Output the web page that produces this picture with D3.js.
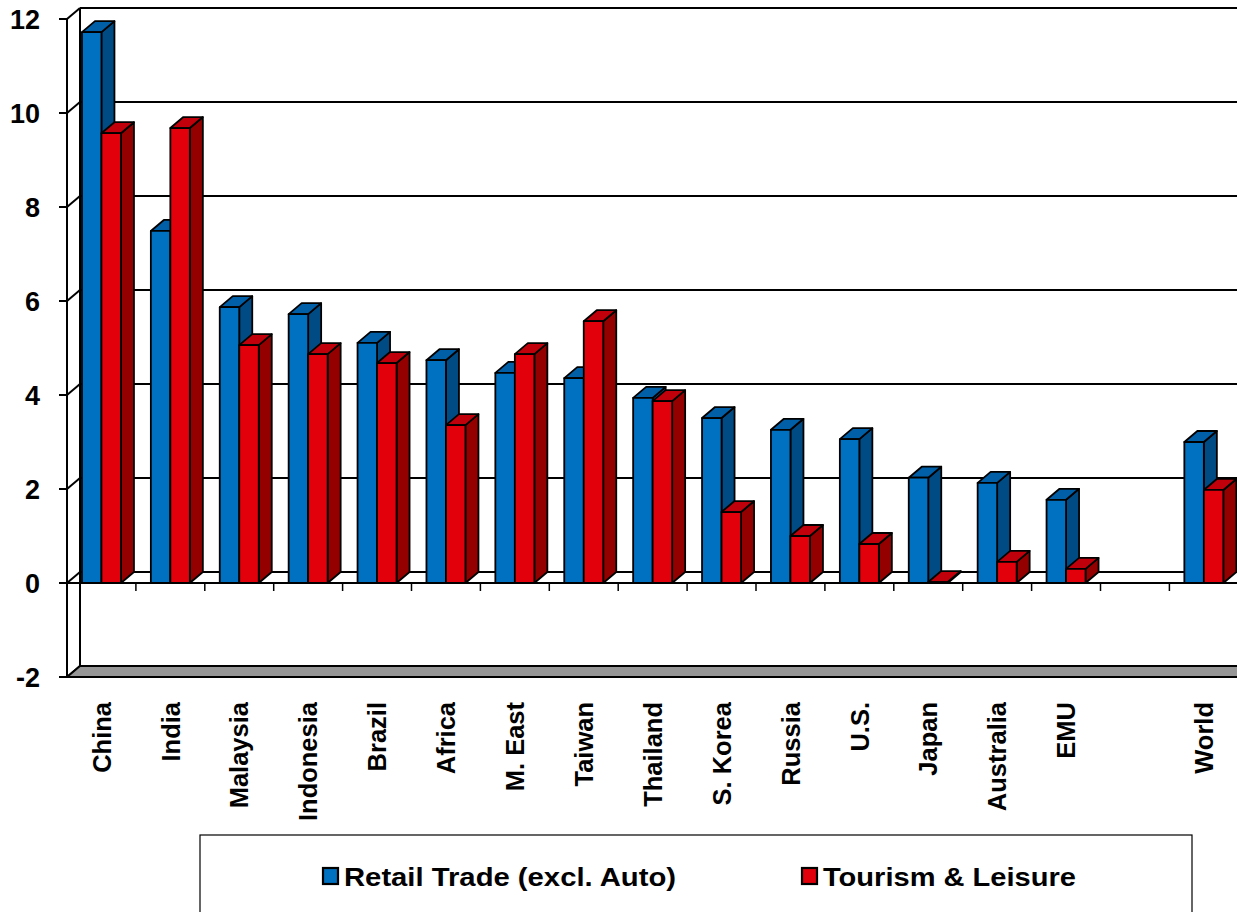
<!DOCTYPE html>
<html>
<head>
<meta charset="utf-8">
<script src="https://cdn.jsdelivr.net/npm/d3@7"></script>
<style>
  html, body { margin: 0; padding: 0; background: #fff; }
  svg { display: block; }
  text { font-family: Arial, "Liberation Sans", sans-serif; font-weight: bold; fill: #000; }
</style>
</head>
<body>
<svg id="chart" width="1237" height="912"></svg>
<script>
// Growth by region, two sectors
const categories = ["China", "India", "Malaysia", "Indonesia", "Brazil", "Africa", "M. East", "Taiwan",
  "Thailand", "S. Korea", "Russia", "U.S.", "Japan", "Australia", "EMU", "", "World"];
const retail  = [11.72, 7.49, 5.87, 5.72, 5.11, 4.74, 4.47, 4.36, 3.94, 3.51, 3.26, 3.06, 2.24, 2.13, 1.77, null, 3.00];
const tourism = [9.57, 9.68, 5.06, 4.87, 4.68, 3.36, 4.87, 5.57, 3.87, 1.51, 1.00, 0.83, 0.02, 0.45, 0.30, null, 1.98];
const seriesNames = ["Retail Trade (excl. Auto)", "Tourism & Leisure"];
const yTicks = [-2, 0, 2, 4, 6, 8, 10, 12];

const svg = d3.select("#chart");

// layout of the 3-D box
const plotLeft = 67, plotBottom = 677, plotTop = 19;
const slot = 68.9;
const depth = { dx: 13, dy: -11 };

const y = d3.scaleLinear().domain([-2, 12]).range([plotBottom, plotTop]);
const x0 = d3.scaleBand().domain(d3.range(categories.length))
  .range([plotLeft, plotLeft + slot * categories.length]).padding(0);
const x1 = d3.scaleBand().domain([0, 1]).range([0, x0.bandwidth()])
  .paddingInner(0).paddingOuter(0.767);

const farRight = plotLeft + slot * categories.length + 40;

const colors = [
  { front: "#0070C0", top: "#005FA6", side: "#004B84" },
  { front: "#E2000B", top: "#C0000A", side: "#940000" }
];

// left side wall and back-wall gridlines
const wall = svg.append("g").attr("stroke", "#000").attr("stroke-width", 2).attr("fill", "none");
yTicks.forEach(v => {
  const yf = y(v);
  if (v > -2) {
    wall.append("line").attr("x1", plotLeft + depth.dx).attr("x2", farRight)
      .attr("y1", yf + depth.dy).attr("y2", yf + depth.dy);
  }
  wall.append("line").attr("x1", plotLeft).attr("y1", yf)
    .attr("x2", plotLeft + depth.dx).attr("y2", yf + depth.dy);
  wall.append("line").attr("x1", plotLeft - 8).attr("x2", plotLeft).attr("y1", yf).attr("y2", yf);
});
wall.append("line").attr("x1", plotLeft + depth.dx).attr("x2", plotLeft + depth.dx)
  .attr("y1", y(12) + depth.dy).attr("y2", y(-2) + depth.dy);
wall.append("line").attr("x1", plotLeft).attr("x2", plotLeft).attr("y1", y(12)).attr("y2", y(-2));

// floor slab at the axis minimum
svg.append("path")
  .attr("d", `M${plotLeft},${y(-2)} L${plotLeft + depth.dx},${y(-2) + depth.dy} L${farRight},${y(-2) + depth.dy} L${farRight},${y(-2)} Z`)
  .attr("fill", "#969696").attr("stroke", "#000").attr("stroke-width", 2);

// category axis at zero, with tick marks between categories
svg.append("line").attr("x1", plotLeft).attr("x2", farRight).attr("y1", y(0)).attr("y2", y(0))
  .attr("stroke", "#000").attr("stroke-width", 2);
svg.append("g").selectAll("line").data(d3.range(1, categories.length))
  .join("line")
  .attr("x1", i => plotLeft + slot * i).attr("x2", i => plotLeft + slot * i)
  .attr("y1", y(0)).attr("y2", y(0) + 8)
  .attr("stroke", "#000").attr("stroke-width", 1.5);

// 3-D bars
const barData = [];
categories.forEach((c, i) => {
  [retail[i], tourism[i]].forEach((v, s) => {
    if (v !== null) barData.push({ i, s, v });
  });
});
const bars = svg.append("g").attr("stroke", "#000").attr("stroke-width", 1.8).attr("stroke-linejoin", "round");
barData.forEach(d => {
  const xl = x0(d.i) + x1(d.s), xr = xl + x1.bandwidth();
  const yt = y(d.v), yb = y(0);
  const dx = depth.dx, dy = depth.dy;
  const g = bars.append("g");
  g.append("path")
    .attr("d", `M${xr},${yb} L${xr + dx},${yb + dy} L${xr + dx},${yt + dy} L${xr},${yt} Z`)
    .attr("fill", colors[d.s].side);
  g.append("path")
    .attr("d", `M${xl},${yt} L${xl + dx},${yt + dy} L${xr + dx},${yt + dy} L${xr},${yt} Z`)
    .attr("fill", colors[d.s].top);
  g.append("rect").attr("x", xl).attr("y", yt).attr("width", xr - xl).attr("height", Math.max(0, yb - yt))
    .attr("fill", colors[d.s].front);
});

// value axis labels
svg.append("g").selectAll("text").data(yTicks).join("text")
  .attr("x", 40).attr("y", v => y(v)).attr("dy", "0.36em")
  .attr("text-anchor", "end").style("font-size", "27px")
  .text(v => v);

// category labels, rotated
svg.append("g").selectAll("text").data(categories.map((c, i) => ({ c, i })).filter(d => d.c))
  .join("text")
  .attr("transform", d => `translate(${x0(d.i) + x0.bandwidth() / 2},702) rotate(-90)`)
  .attr("text-anchor", "end").attr("dy", "0.36em").style("font-size", "25.5px")
  .text(d => d.c);

// legend (text is drawn slightly widened)
const legend = svg.append("g");
legend.append("rect").attr("x", 200).attr("y", 835).attr("width", 992).attr("height", 100)
  .attr("fill", "#fff").attr("stroke", "#000").attr("stroke-width", 1.2);
const legendX = [323, 802];
const legendLen = [332, 253];
seriesNames.forEach((name, s) => {
  legend.append("rect").attr("x", legendX[s]).attr("y", 868).attr("width", 15).attr("height", 16)
    .attr("fill", colors[s].front).attr("stroke", "#000").attr("stroke-width", 2.2);
  legend.append("text").attr("x", legendX[s] + 21).attr("y", 886)
    .style("font-size", "25px")
    .attr("textLength", legendLen[s]).attr("lengthAdjust", "spacingAndGlyphs")
    .text(name);
});
</script>
</body>
</html>
